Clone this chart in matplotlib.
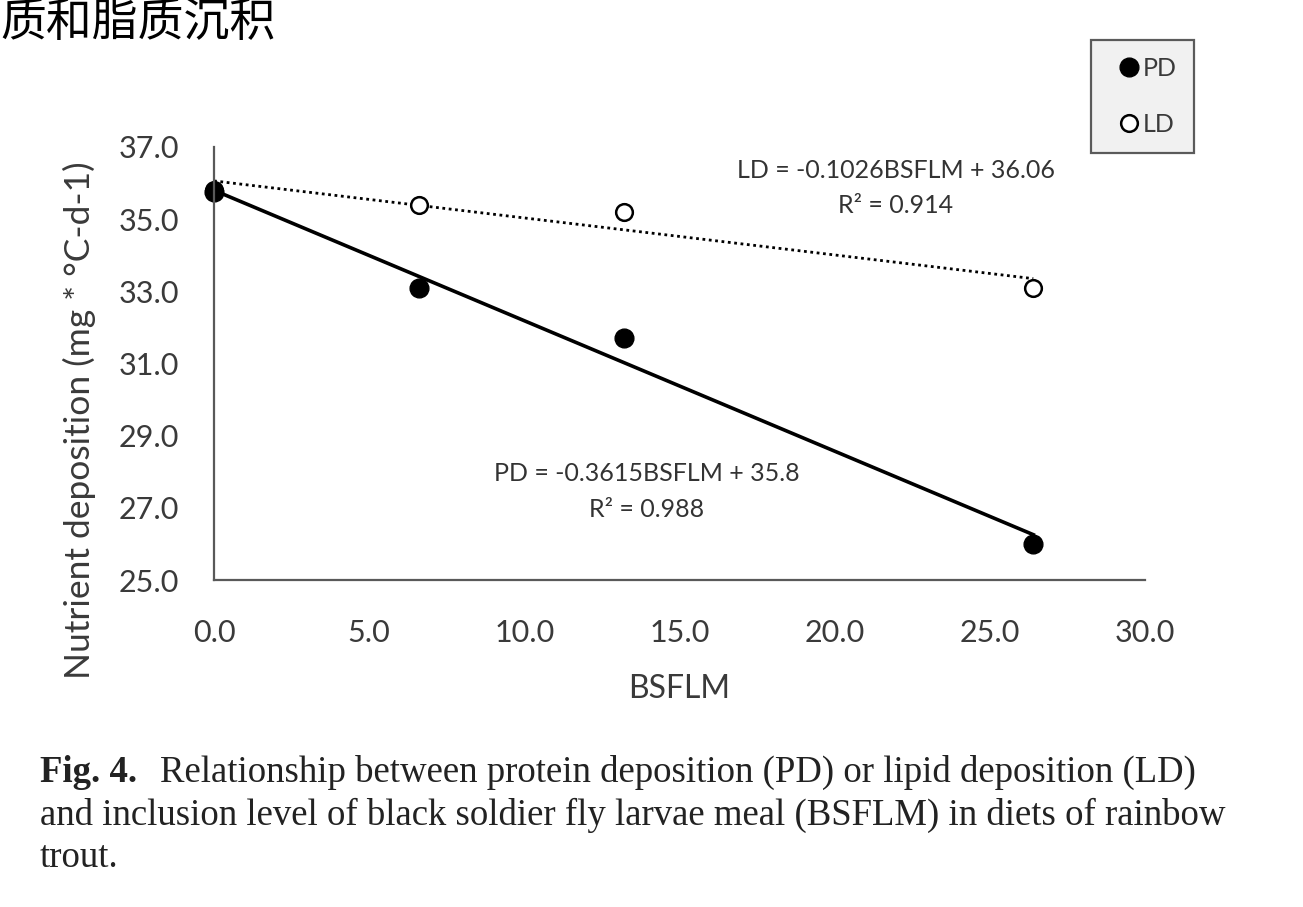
import numpy as np
import matplotlib as mpl
import matplotlib.pyplot as plt

#-- data
bsflm = [0.0, 6.6, 13.2, 26.4]
pd_vals = [35.75, 33.1, 31.7, 26.0]
ld_vals = [35.8, 35.4, 35.2, 33.1]

# trendline coefficients printed on the chart (slope, intercept)
pd_fit = (-0.3615, 35.8)
ld_fit = (-0.1026, 36.06)
pd_label = ['PD = -0.3615BSFLM + 35.8', 'R² = 0.988']
ld_label = ['LD = -0.1026BSFLM + 36.06', 'R² = 0.914']

x_ticks = [0, 5, 10, 15, 20, 25, 30]
y_ticks = [25, 27, 29, 31, 33, 35, 37]

W, H = 1303, 907
sans = ['Lato', 'DejaVu Sans']
grey = '#3a3a3a'

fig = plt.figure(figsize=(W / 100, H / 100), dpi=100)
ax = fig.add_axes([214 / W, 1 - 580 / H, (1145 - 214) / W, (580 - 147) / H])

# trendlines
xx = np.array([0, max(bsflm)])
ax.plot(xx, ld_fit[0] * xx + ld_fit[1], color='black', lw=2.0, ls=(0, (1, 1.3)))
ax.plot(xx, pd_fit[0] * xx + pd_fit[1], color='black', lw=2.6)

# points
ax.plot(bsflm, ld_vals, 'o', ms=12, mfc='white', mec='black', mew=1.8, label='LD',
        clip_on=False)
ax.plot(bsflm, pd_vals, 'o', ms=13.5, color='black', label='PD', clip_on=False)

ax.set_xlim(0, 30)
ax.set_ylim(25, 37)
ax.set_xticks(x_ticks)
ax.set_yticks(y_ticks)
ax.xaxis.set_major_formatter(mpl.ticker.FormatStrFormatter('%.1f'))
ax.yaxis.set_major_formatter(mpl.ticker.FormatStrFormatter('%.1f'))
ax.tick_params(length=0, labelsize=22, labelcolor=grey)
ax.tick_params(axis='x', pad=28)
ax.tick_params(axis='y', pad=25)
for lab in ax.get_xticklabels() + ax.get_yticklabels():
    lab.set_family(sans)
for s in ['top', 'right']:
    ax.spines[s].set_visible(False)
for s in ['left', 'bottom']:
    ax.spines[s].set_color('#595959')
    ax.spines[s].set_linewidth(1.6)
ax.patch.set_alpha(0)

ax.set_xlabel('BSFLM', fontsize=23, color=grey, family=sans)
ax.xaxis.set_label_coords(0.5, -0.218)
ax.set_ylabel('Nutrient deposition (mg * °C-d-1)', fontsize=25.5, color=grey, family=sans)
ax.yaxis.set_label_coords(-0.127, 0.37)

# equations
eq = dict(ha='center', va='center', fontsize=18, color='#333333', family=sans)
ax.text(21.97, 36.34, ld_label[0], **eq)
ax.text(21.97, 35.37, ld_label[1], **eq)
ax.text(13.94, 27.94, pd_label[0], **eq)
ax.text(13.94, 26.94, pd_label[1], **eq)

# legend (PD first)
h, l = ax.get_legend_handles_labels()
leg = fig.legend(h[::-1], l[::-1], loc='upper left',
                 bbox_to_anchor=(1091 / W, 1 - 40 / H), borderaxespad=0,
                 frameon=True, fancybox=False, handletextpad=-0.3,
                 handlelength=1.7, labelspacing=1.3, borderpad=0.68,
                 prop={'family': sans, 'size': 18})
leg.get_frame().set_facecolor('#eeeeee')
leg.get_frame().set_edgecolor('#333333')
leg.get_frame().set_linewidth(1.6)
for t in leg.get_texts():
    t.set_color(grey)

# chinese heading at the top-left edge
fig.text(0, 1 - 23 / H, '质和脂质沉积', fontsize=33, va='center', ha='left',
         family=['Noto Sans CJK SC', 'DejaVu Sans'], weight='medium', color='black')

# caption
cap = dict(fontsize=26.5, family='Liberation Serif', color='#222222', va='center')
fig.text(40 / W, 1 - 772 / H, 'Fig. 4.', weight='bold', **cap)
fig.text(160 / W, 1 - 772 / H,
         'Relationship between protein deposition (PD) or lipid deposition (LD)', **cap)
fig.text(40 / W, 1 - 815 / H,
         'and inclusion level of black soldier fly larvae meal (BSFLM) in diets of rainbow', **cap)
fig.text(40 / W, 1 - 858 / H, 'trout.', **cap)

fig.savefig('out.png', dpi=100)
